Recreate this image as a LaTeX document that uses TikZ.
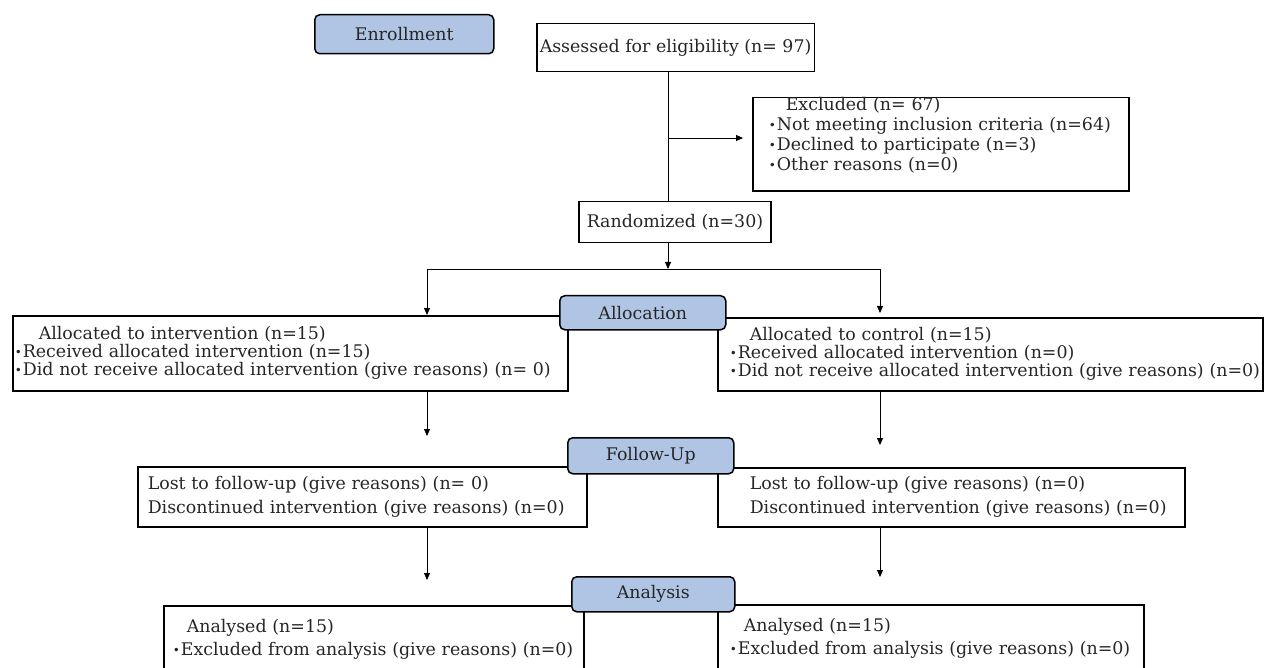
\documentclass[tikz,border=0pt]{standalone}
\usepackage{fontspec}
\setmainfont{DejaVu Serif}
\usepackage{xcolor}
\usepackage{tikz}
\usetikzlibrary{arrows.meta, positioning}
\definecolor{stageblue}{RGB}{176,196,228}
\newcommand{\diagfont}{\fontsize{17.4}{18}\selectfont\lineskiplimit=-\maxdimen}
\newcommand{\dotitem}{\raisebox{1pt}{\fontsize{12}{12}\selectfont\textbullet}\hspace{1pt}}
\tikzstyle{stage} = [draw, line width=1.5pt, rounded corners=5pt, fill=stageblue, anchor=north west, inner sep=0pt]
\tikzstyle{onebox} = [draw, line width=1.5pt, anchor=north west, inner xsep=6pt, inner ysep=0pt]
\tikzstyle{listbox} = [draw, line width=1.5pt, anchor=north west, inner xsep=1pt, inner ysep=0pt, align=left]
\tikzstyle{arrow} = [line width=0.9pt, -{Triangle[length=7pt, width=6pt]}]
\tikzstyle{link} = [line width=0.9pt]
\begin{document}
\begin{tikzpicture}[x=1pt, y=-1pt, font=\diagfont, text=black!85]
    \useasboundingbox (0,0) rectangle (1266,668);
    % enrollment
    \node [onebox, inner xsep=3pt, minimum height=48pt] (assessed) at (536,23) {Assessed for eligibility (n= 97)};
    \node [listbox, minimum width=376pt, minimum height=84pt, text width=374pt] (excluded) at (752,97)
        {\hspace*{32pt}Excluded (n= 67)\\[2pt] \hspace*{15pt}\dotitem Not meeting inclusion criteria (n=64)\\[2pt] \hspace*{15pt}\dotitem Declined to participate (n=3)\\[2pt] \hspace*{15pt}\dotitem Other reasons (n=0)\\[2pt] \mbox{}};
    \node [onebox, inner xsep=8pt, minimum height=41pt] (randomized) at (578,201) {Randomized (n=30)};
    % allocation
    \node [listbox, minimum width=555pt, minimum height=75pt, text width=553pt] (leftalloc) at (12,315)
        {\hspace*{25pt}Allocated to intervention (n=15)\\ \hspace*{1pt}\dotitem Received allocated intervention (n=15)\\ \hspace*{1pt}\dotitem Did not receive allocated intervention (give reasons) (n= 0)};
    \node [listbox, minimum width=545pt, minimum height=73pt, text width=543pt] (rightalloc) at (717,317)
        {\hspace*{31pt}Allocated to control (n=15)\\ \hspace*{11pt}\dotitem Received allocated intervention (n=0)\\ \hspace*{11pt}\dotitem Did not receive allocated intervention (give reasons) (n=0)};
    % follow-up
    \node [listbox, minimum width=449pt, minimum height=60pt, text width=447pt] (leftfu) at (137,466)
        {\hspace*{9pt}Lost to follow-up (give reasons) (n= 0)\\[6pt] \hspace*{9pt}Discontinued intervention (give reasons) (n=0)};
    \node [listbox, minimum width=467pt, minimum height=59pt, text width=465pt] (rightfu) at (717,467)
        {\hspace*{31pt}Lost to follow-up (give reasons) (n=0)\\[6pt] \hspace*{31pt}Discontinued intervention (give reasons) (n=0)};
    % analysis
    \node [listbox, minimum width=420pt, minimum height=67pt, text width=418pt] (leftan) at (163,605)
        {\hspace*{22pt}Analysed (n=15)\\[5pt] \hspace*{8pt}\dotitem Excluded from analysis (give reasons) (n=0)};
    \node [listbox, minimum width=426pt, minimum height=68pt, text width=424pt] (rightan) at (717,604)
        {\hspace*{25pt}Analysed (n=15)\\[5pt] \hspace*{11pt}\dotitem Excluded from analysis (give reasons) (n=0)};

    \coordinate (split) at (668,138);
    \coordinate (fork) at (668,269);
    \coordinate (forkL) at (427,269);
    \coordinate (forkR) at (880,269);
    \draw [link] (assessed.south -| split) -- (randomized.north -| split);
    \draw [arrow, shorten >=9pt] (split) -- (excluded.west |- split);
    \draw [arrow] (randomized.south -| fork) -- (fork);
    \draw [link] (forkL) -- (forkR);
    \draw [arrow] (forkL) -- (leftalloc.north -| forkL);
    \draw [arrow, shorten >=4pt] (forkR) -- (rightalloc.north -| forkR);
    \draw [arrow, shorten >=30pt] (leftalloc.south -| forkL) -- (leftfu.north -| forkL);
    \draw [arrow, shorten >=22pt] (rightalloc.south -| forkR) -- (rightfu.north -| forkR);
    \draw [arrow, shorten >=25pt] (leftfu.south -| forkL) -- (leftan.north -| forkL);
    \draw [arrow, shorten >=27pt] (rightfu.south -| forkR) -- (rightan.north -| forkR);

    % stage labels
    \node [stage, minimum width=179pt, minimum height=39pt] (enroll) at (314,14) {Enrollment};
    \node [stage, minimum width=166pt, minimum height=34pt] (allocation) at (559,295) {Allocation};
    \node [stage, minimum width=166pt, minimum height=36pt] (followup) at (567,437) {Follow-Up};
    \node [stage, minimum width=163pt, minimum height=35pt] (analysis) at (571,576) {Analysis};
\end{tikzpicture}
\end{document}
